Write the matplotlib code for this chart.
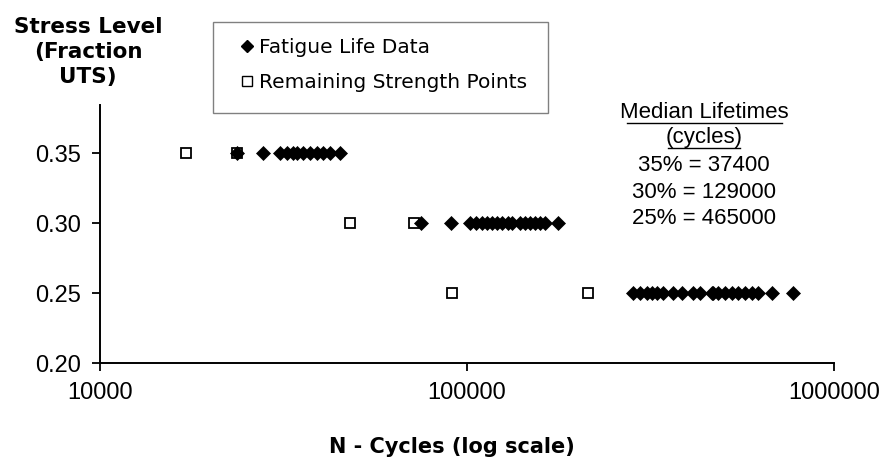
import matplotlib
matplotlib.use("Agg")
import matplotlib.pyplot as plt
from matplotlib.lines import Line2D
from matplotlib.patches import Rectangle
import numpy as np

# fatigue life data (cycles to failure) at each stress level
fatigue_035 = [23600, 27800, 30900, 32400, 33600, 34400, 35700, 37400,
               39000, 40500, 42400, 45100]
fatigue_030 = [75100, 90700, 101800, 105800, 109700, 113200, 116800, 120400,
               124300, 129000, 132400, 139400, 143800, 148500, 153200, 158100,
               163200, 177500]
fatigue_025 = [283800, 296000, 308700, 318600, 328500, 342900, 364800, 384500,
               413700, 431600, 465000, 469400, 484200, 505000, 526700, 548600,
               572100, 596700, 622200, 676500, 774500]

# remaining strength test points
strength_n = [17100, 23600, 48000, 71800, 91000, 214000]
strength_s = [0.35, 0.35, 0.30, 0.30, 0.25, 0.25]

median_levels = ["35%", "30%", "25%"]
median_values = [37400, 129000, 465000]

plt.rcParams["font.family"] = ["Liberation Sans", "DejaVu Sans"]

W, H = 884, 462
fig = plt.figure(figsize=(W / 100, H / 100), dpi=100)
ax = fig.add_axes([100 / W, 1 - 363 / H, 734 / W, 258 / H])

fat_n = fatigue_035 + fatigue_030 + fatigue_025
fat_s = [0.35] * len(fatigue_035) + [0.30] * len(fatigue_030) + [0.25] * len(fatigue_025)

ax.plot(strength_n, strength_s, ls="none", marker="s", ms=7, mfc="white",
        mec="black", mew=1.3, zorder=3)
ax.plot(fat_n, fat_s, ls="none", marker="D", ms=7, mfc="black",
        mec="black", mew=0.5, zorder=4)

ax.set_xscale("log")
ax.set_xlim(1e4, 1e6)
ax.set_ylim(0.2, 0.2 + 258 / 1400)
ax.set_xticks([1e4, 1e5, 1e6])
ax.set_xticklabels(["10000", "100000", "1000000"])
ax.xaxis.set_minor_locator(matplotlib.ticker.NullLocator())
ax.set_yticks([0.20, 0.25, 0.30, 0.35])
ax.set_yticklabels(["0.20", "0.25", "0.30", "0.35"])
ax.tick_params(axis="both", direction="out", length=6, width=1.3,
               labelsize=17, pad=8, color="black")
for side in ["top", "right"]:
    ax.spines[side].set_visible(False)
for side in ["left", "bottom"]:
    ax.spines[side].set_linewidth(1.4)

# axis titles
fig.text(452 / W, 1 - 447 / H, "N - Cycles (log scale)", ha="center",
         va="center", fontsize=15, fontweight="bold", family="DejaVu Sans")
fig.text(88 / W, 1 - 52 / H, "Stress Level\n(Fraction\nUTS)", ha="center",
         va="center", fontsize=15.5, fontweight="bold", family="DejaVu Sans",
         linespacing=1.32)

# legend: grey box drawn separately, entries placed inside it
fig.add_artist(Rectangle((213 / W, 1 - 113 / H), 335 / W, 91 / H,
                         transform=fig.transFigure, fill=False,
                         edgecolor="#808080", lw=1.0))
handles = [
    Line2D([], [], ls="none", marker="D", ms=6, mfc="black", mec="black"),
    Line2D([], [], ls="none", marker="s", ms=7, mfc="white", mec="black", mew=1),
]
fig.legend(handles, ["Fatigue Life Data", "Remaining Strength Points"],
           loc="upper left", bbox_to_anchor=(241 / W, 1 - 38 / H),
           frameon=False, handlelength=0.6, handletextpad=0.3,
           labelspacing=0.8, borderpad=0, borderaxespad=0,
           prop={"family": "DejaVu Sans", "size": 14.5})

# median lifetimes note
cx = 704 / W
fig.text(cx, 1 - 112 / H, "Median Lifetimes", ha="center", va="center",
         fontsize=16)
fig.text(cx, 1 - 137 / H, "(cycles)", ha="center", va="center", fontsize=16)
fig.add_artist(Line2D([627 / W, 782 / W], [1 - 123 / H] * 2,
                      color="black", lw=1.0))
fig.add_artist(Line2D([668 / W, 740 / W], [1 - 148 / H] * 2,
                      color="black", lw=1.0))
for i, (lvl, val) in enumerate(zip(median_levels, median_values)):
    fig.text(cx, 1 - (165 + 27 * i) / H, f"{lvl} = {val}", ha="center",
             va="center", fontsize=16)

fig.savefig("out.png", dpi=100)
